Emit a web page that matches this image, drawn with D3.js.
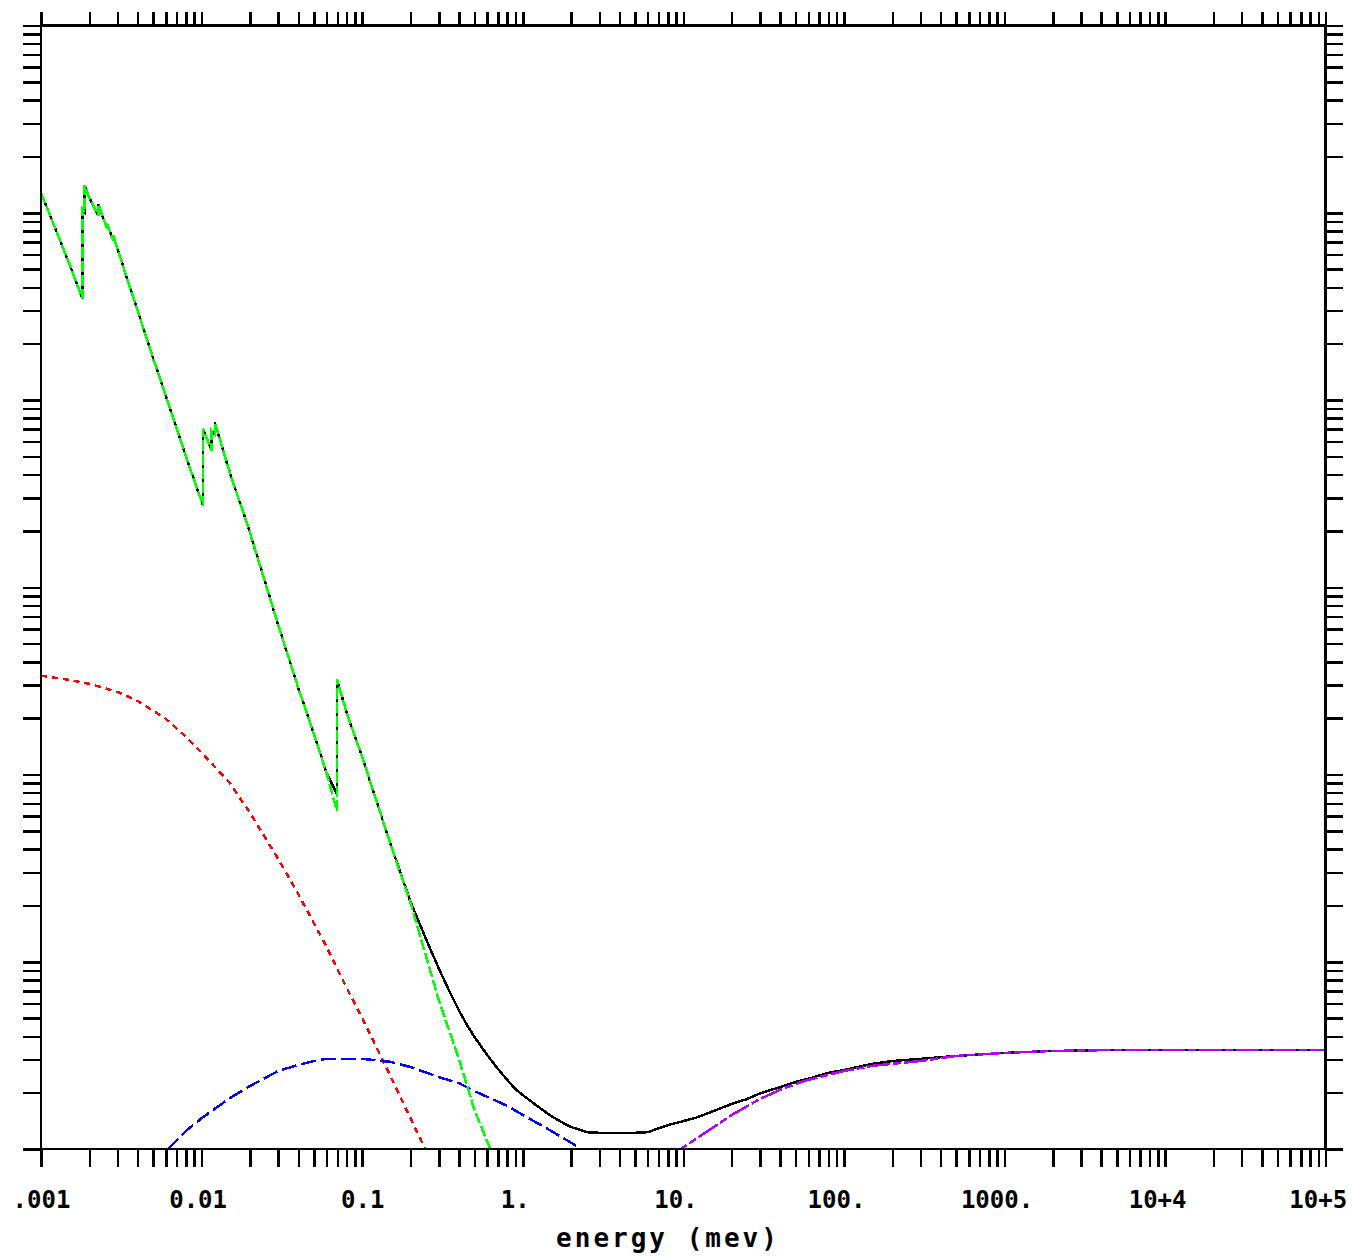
<!DOCTYPE html>
<html>
<head>
<meta charset="utf-8">
<script src="https://cdn.jsdelivr.net/npm/d3@7"></script>
<style>
  html, body { margin: 0; padding: 0; background: #fff; }
  svg { display: block; }
  .tick-label { font-family: "DejaVu Sans Mono", monospace; font-weight: bold; font-size: 24px; fill: #000; }
  .axis-title { font-family: "DejaVu Sans Mono", monospace; font-weight: bold; font-size: 26px; fill: #000; letter-spacing: 3px; }
</style>
</head>
<body>
<svg id="chart" width="1352" height="1256"></svg>
<script>
// Photon cross sections of tungsten (barns/atom) versus photon energy (MeV).

// Photoelectric absorption (edges appear as repeated energies)
const photoE = [0.001, 0.0015, 0.001809, 0.001809, 0.001872, 0.001872, 0.002,
  0.002281, 0.002281, 0.002575, 0.002575, 0.00282, 0.00282, 0.003, 0.004, 0.005,
  0.006, 0.008, 0.010207, 0.010207, 0.011544, 0.011544, 0.0121, 0.0121, 0.015,
  0.02, 0.03, 0.04, 0.05, 0.06, 0.069525, 0.069525, 0.08, 0.1, 0.15, 0.2, 0.3,
  0.4, 0.5, 0.6, 0.7];
const photoV = [1.28e6, 5.35e5, 3.48e5, 1.05e6, 1.01e6, 1.40e6, 1.20e6,
  9.65e5, 1.11e6, 8.23e5, 8.75e5, 7.10e5, 7.55e5, 6.36e5, 3.00e5, 1.66e5,
  1.05e5, 4.98e4, 2.73e4, 7.03e4, 5.36e4, 6.86e4, 6.53e4, 7.57e4, 4.09e4,
  1.96e4, 6.30e3, 2.90e3, 1.65e3, 1.02e3, 639, 3.24e3, 2.14e3, 1.24e3, 426, 206, 62.5,
  30.3, 16.2, 11.0, 8.01];

// Total attenuation
const totalE = [0.001, 0.0015, 0.001809, 0.001809, 0.001872, 0.001872, 0.002,
  0.002281, 0.002281, 0.002575, 0.002575, 0.00282, 0.00282, 0.003, 0.004, 0.005,
  0.006, 0.008, 0.010207, 0.010207, 0.011544, 0.011544, 0.0121, 0.0121, 0.015,
  0.02, 0.03, 0.04, 0.05, 0.06, 0.069525, 0.069525, 0.08, 0.1, 0.15,
  0.2, 0.25, 0.3, 0.35, 0.4, 0.45, 0.5, 0.6, 0.7, 0.8, 0.9, 1, 1.25, 1.5, 1.75, 2, 2.5,
  3, 4, 5, 6, 8, 10, 12, 15, 20, 25, 30, 40, 50,
  60, 80, 100, 150, 200, 300, 500, 1000, 2000, 5000, 1e4, 1e5];
const totalV = [1.28e6, 5.35e5, 3.48e5, 1.05e6, 1.01e6, 1.40e6, 1.20e6,
  9.65e5, 1.11e6, 8.23e5, 8.75e5, 7.10e5, 7.55e5, 6.36e5, 3.00e5, 1.66e5,
  1.05e5, 4.98e4, 2.73e4, 7.03e4, 5.36e4, 6.86e4, 6.53e4, 7.57e4, 4.09e4,
  1.96e4, 6.30e3, 2.90e3, 1.65e3, 1.02e3, 788, 3.24e3, 2.14e3, 1.24e3, 426,
  209, 132, 92.0, 69.3, 55.0, 45.9, 39.7, 31.8, 26.8, 23.4, 20.9, 19.4, 16.8, 15.0, 13.9, 13.1, 12.3,
  12.2, 12.2, 12.2, 12.3, 13.4, 14.1, 14.7, 15.8, 17.4, 18.5, 19.8, 21.4, 22.8,
  23.7, 25.5, 26.4, 28.5, 29.5, 30.3, 31.4, 32.6, 33.4, 33.8, 33.8, 33.8];

// Coherent (Rayleigh) scattering
const cohE = [0.001, 0.0015, 0.002, 0.003, 0.004, 0.005, 0.006, 0.008, 0.01, 0.015,
  0.02, 0.03, 0.04, 0.05, 0.06, 0.08, 0.1, 0.15, 0.2, 0.25, 0.3];
const cohV = [3370, 3200, 3050, 2760, 2470, 2190, 1980, 1590, 1310, 902,
  624, 354, 230, 161, 120, 72.5, 50.1, 24.5, 14.6, 9.76, 6.58];

// Incoherent (Compton) scattering
const incohE = [0.005, 0.006, 0.008, 0.01, 0.015, 0.02, 0.03, 0.04, 0.05, 0.06, 0.08,
  0.1, 0.15, 0.2, 0.3, 0.4, 0.5, 0.6, 0.8, 1, 1.5, 2, 3];
const incohV = [8.42, 9.76, 12.5, 14.6, 18.7, 21.7, 26.1, 28.1, 29.5, 30.3, 30.3,
  30.3, 29.2, 27.4, 24.2, 22.5, 20.4, 19.0, 17.0, 15.2, 12.5, 10.8, 8.63];

// Pair production
const pairE = [8, 10, 15, 20, 30, 40, 50, 60, 80, 100, 150, 200, 300, 500, 1000,
  2000, 5000, 1e4, 1e5];
const pairV = [8.95, 10.2, 12.9, 15.2, 18.5, 20.7, 22.2, 23.4, 24.9, 26.1, 27.8,
  28.5, 29.5, 31.4, 32.6, 33.4, 33.8, 33.8, 33.8];

// Energy axis labels at each decade
const xDecades = [1e-3, 1e-2, 1e-1, 1, 10, 100, 1000, 1e4, 1e5];
const xTickLabels = [".001", "0.01", "0.1", "1.", "10.", "100.", "1000.", "10+4", "10+5"];
const xTitle = "energy (mev)";

const svg = d3.select("#chart");
const box = { left: 41, right: 1325.7, top: 25.5, bottom: 1149 };

const x = d3.scaleLog().domain([1e-3, 1e5]).range([box.left, box.right]);
const y = d3.scaleLog().domain([10, 1e7]).range([box.bottom, box.top]);

// minor + major log ticks
function logTicks(lo, hi) {
  const out = [];
  for (let k = lo; k < hi; k++) {
    for (let m = 1; m <= 9; m++) out.push(m * Math.pow(10, k));
  }
  out.push(Math.pow(10, hi));
  return out;
}
const xTicks = logTicks(-3, 5);
const yTicks = logTicks(1, 7);

svg.append("defs").append("clipPath").attr("id", "plotclip")
  .append("rect")
  .attr("x", box.left).attr("y", box.top)
  .attr("width", box.right - box.left).attr("height", box.bottom - box.top);

function styleAxis(g) {
  g.select(".domain").remove();
  g.selectAll(".tick line").attr("stroke", "#000").attr("stroke-width", 2.5)
    .attr("shape-rendering", "crispEdges");
}

// bottom axis with decade labels
const labelOf = new Map(xDecades.map((d, i) => [d, xTickLabels[i]]));
const bottom = svg.append("g")
  .attr("transform", `translate(0,${box.bottom})`)
  .call(d3.axisBottom(x).tickValues(xTicks).tickSize(18)
    .tickFormat(d => {
      for (const [k, v] of labelOf) if (Math.abs(d / k - 1) < 1e-9) return v;
      return "";
    }))
  .call(styleAxis);
bottom.selectAll(".tick text")
  .attr("class", "tick-label")
  .attr("y", 59).attr("dy", 0)
  .attr("font-family", null).attr("font-size", null)
  .attr("dx", function () {
    const t = d3.select(this).text();
    if (t === "0.01") return -4;
    return (t.endsWith(".") || t.includes("+")) ? -8 : 0;
  });

svg.append("g")
  .attr("transform", `translate(0,${box.top})`)
  .call(d3.axisTop(x).tickValues(xTicks).tickSize(14).tickFormat(""))
  .call(styleAxis);

svg.append("g")
  .attr("transform", `translate(${box.left},0)`)
  .call(d3.axisLeft(y).tickValues(yTicks).tickSize(18).tickFormat(""))
  .call(styleAxis);

svg.append("g")
  .attr("transform", `translate(${box.right},0)`)
  .call(d3.axisRight(y).tickValues(yTicks).tickSize(17).tickFormat(""))
  .call(styleAxis);

// curves
const line = d3.line().x(d => x(d[0])).y(d => y(d[1]));
const zip = (a, b) => a.map((v, i) => [v, b[i]]);

const curves = svg.append("g").attr("clip-path", "url(#plotclip)");
const series = [
  { e: totalE, v: totalV, color: "#000000", dash: null },
  { e: cohE, v: cohV, color: "#ff0000", dash: "6,5" },
  { e: incohE, v: incohV, color: "#0000ff", dash: "15,5" },
  { e: photoE, v: photoV, color: "#00ff00", dash: "11,3" },
  { e: pairE, v: pairV, color: "#b400ff", dash: "23,3,8,3" }
];
series.forEach(s => {
  curves.append("path")
    .attr("d", line(zip(s.e, s.v)))
    .attr("fill", "none")
    .attr("stroke", s.color)
    .attr("stroke-width", 2.5)
    .attr("stroke-dasharray", s.dash)
    .attr("shape-rendering", "crispEdges");
});

// frame
svg.append("rect")
  .attr("x", box.left).attr("y", box.top)
  .attr("width", box.right - box.left).attr("height", box.bottom - box.top)
  .attr("fill", "none").attr("stroke", "#000").attr("stroke-width", 2.5)
  .attr("shape-rendering", "crispEdges");

// axis title
svg.append("text")
  .attr("class", "axis-title")
  .attr("x", 668)
  .attr("y", 1247)
  .attr("text-anchor", "middle")
  .text(xTitle);
</script>
</body>
</html>
